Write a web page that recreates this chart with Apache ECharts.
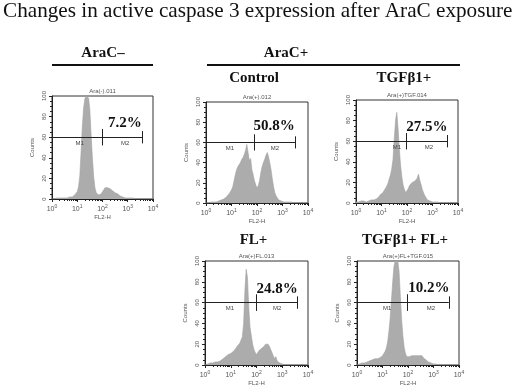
<!DOCTYPE html>
<html>
<head>
<meta charset="utf-8">
<script src="https://cdn.jsdelivr.net/npm/echarts@6/dist/echarts.min.js"></script>
<style>
  html, body { margin: 0; padding: 0; background: #fff; }
  #chart { width: 520px; height: 388px; }
</style>
</head>
<body>
<div id="chart"></div>
<script>
// bin positions along FL2-H, in decades (10^0 .. 10^4)
const logPos = Array.from({length: 81}, (_, i) => +(i * 0.05).toFixed(2));

// counts per bin
const araMinus = [
  0,0,0,0,1,0,1,1,1,1,
  1,2,1,2,2,3,2,3,4,5,
  7,12,22,45,70,88,97,100,100,98,
  86,62,40,22,11,6,5,4,4,5,
  7,9,11,12,11,12,10,9,8,7,
  6,5,5,4,3,3,2,2,1,1,
  1,1,1,0,1,0,0,0,0,0,
  0,0,0,0,0,0,0,0,0,0,0
];
const control = [
  0,1,0,1,1,1,1,2,1,2,
  2,2,3,3,4,5,6,7,9,11,
  13,16,22,28,33,36,35,40,43,45,
  48,52,58,50,42,44,33,28,22,18,
  15,17,22,30,36,40,43,47,50,46,
  40,33,24,16,10,7,5,3,3,2,
  2,1,1,1,1,1,0,1,0,0,
  0,0,0,0,0,0,0,0,0,0,0
];
const tgf = [
  1,2,1,1,2,1,2,2,1,2,
  2,2,3,3,3,4,4,5,6,8,
  9,10,12,14,16,19,23,27,33,42,
  62,80,88,72,52,36,25,17,13,10,
  10,14,17,18,20,19,21,20,24,28,
  22,18,13,10,7,5,3,2,2,1,
  1,1,1,0,1,0,0,0,0,0,
  0,0,0,0,0,0,0,0,0,0,0
];
const fl = [
  0,1,1,1,2,1,2,2,3,3,
  3,4,4,5,6,7,8,9,10,11,
  11,12,13,14,16,18,19,21,22,27,
  40,72,92,84,55,36,28,20,15,12,
  10,12,14,15,16,17,18,20,21,20,
  18,15,12,9,6,8,4,3,2,1,
  1,1,0,1,0,0,0,0,0,0,
  0,0,0,0,0,0,0,0,0,0,0
];
const tgfFl = [
  0,1,1,1,2,2,2,3,3,4,
  4,5,5,6,6,7,6,7,7,8,
  9,10,13,16,22,32,45,62,80,95,
  100,100,100,90,66,44,28,17,11,8,
  7,8,8,9,10,9,10,9,10,9,
  8,9,7,6,5,4,3,2,2,1,
  1,1,1,0,0,0,0,0,0,0,
  0,0,0,0,0,0,0,0,0,0,0
];

const yTicks = [0, 20, 40, 60, 80, 100];
const gateLevel = 60;
const m1End = [1.98, 1.88, 1.96, 2.0, 1.96];   // decades
const m2End = [3.59, 3.49, 3.57, 3.6, 3.6];
const percents = ['7.2%', '50.8%', '27.5%', '24.8%', '10.2%'];
const fileNames = ['Ara(-).011', 'Ara(+).012', 'Ara(+)TGF.014', 'Ara(+)FL.013', 'Ara(+)FL+TGF.015'];
const panelTitles = ['', 'Control', 'TGF\u03b21+', 'FL+', 'TGF\u03b21+ FL+'];

const panels = [
  {counts: araMinus, grid: {left: 52,  top: 96,  width: 101, height: 103}, m1Lab: 1.1,  m2Lab: 2.9,  pct: [2.89, 74]},
  {counts: control,  grid: {left: 206, top: 102, width: 102, height: 101}, m1Lab: 0.94, m2Lab: 2.7,  pct: [2.67, 76]},
  {counts: tgf,      grid: {left: 356, top: 100, width: 102, height: 103}, m1Lab: 1.6,  m2Lab: 2.86, pct: [2.78, 74]},
  {counts: fl,       grid: {left: 205, top: 261, width: 103, height: 104}, m1Lab: 0.97, m2Lab: 2.8,  pct: [2.8, 73]},
  {counts: tgfFl,    grid: {left: 357, top: 261, width: 102, height: 104}, m1Lab: 1.18, m2Lab: 2.9,  pct: [2.82, 74]}
];

const minorVals = [];
for (let d = 0; d < 4; d++) for (let k = 2; k <= 9; k++) minorVals.push(k * Math.pow(10, d));

const pow = v => Math.pow(10, v);
const smallFont = '"Liberation Sans", Arial, sans-serif';
const serif = '"Liberation Serif", "Times New Roman", serif';

const grids = [], xAxes = [], yAxes = [], series = [], graphics = [];

panels.forEach((p, i) => {
  grids.push(Object.assign({show: true, borderColor: '#333', borderWidth: 1, backgroundColor: 'transparent'}, p.grid));
  xAxes.push({
    type: 'log', logBase: 10, min: 1, max: 10000, gridIndex: i,
    name: 'FL2-H', nameLocation: 'middle', nameGap: 15,
    nameTextStyle: {fontSize: 6, color: '#555', fontFamily: smallFont},
    axisLine: {lineStyle: {color: '#222', width: 1}},
    axisTick: {length: 3, lineStyle: {color: '#222'}},
    splitLine: {show: false},
    axisLabel: {
      margin: 5, color: '#555', fontFamily: smallFont, fontSize: 7,
      formatter: v => '10{s|' + Math.round(Math.log10(v)) + '}',
      rich: {s: {fontSize: 5, color: '#555', verticalAlign: 'top', padding: [0, 0, 5, 0]}}
    }
  });
  xAxes.push({
    type: 'log', logBase: 10, min: 1, max: 10000, gridIndex: i, position: 'bottom',
    axisLine: {show: false}, axisLabel: {show: false}, splitLine: {show: false},
    axisTick: {show: true, length: 2, customValues: minorVals, lineStyle: {color: '#222'}}
  });
  yAxes.push({
    type: 'value', min: 0, max: 100, interval: 20, gridIndex: i,
    name: 'Counts', nameLocation: 'middle', nameGap: 17, nameRotate: 90,
    nameTextStyle: {fontSize: 6, color: '#555', fontFamily: smallFont},
    axisLine: {show: true, lineStyle: {color: '#222', width: 1}},
    axisTick: {show: true, length: 3, lineStyle: {color: '#222'}},
    minorTick: {show: true, splitNumber: 4, length: 2, lineStyle: {color: '#222'}},
    splitLine: {show: false},
    axisLabel: {rotate: 90, margin: 5, fontSize: 6, color: '#555', fontFamily: smallFont,
      customValues: yTicks}
  });

  const m1 = pow(m1End[i]), m2 = pow(m2End[i]);
  const tick = 7;
  series.push({
    type: 'line', xAxisIndex: i * 2, yAxisIndex: i,
    data: logPos.map((lp, k) => [pow(lp), p.counts[k]]),
    symbol: 'none', animation: false,
    lineStyle: {color: '#a3a3a3', width: 0.6},
    areaStyle: {color: '#acacac', opacity: 1},
    markLine: {
      silent: true, symbol: ['none', 'none'], animation: false,
      label: {show: false},
      lineStyle: {color: '#222', width: 1, type: 'solid'},
      data: [
        [{coord: [1, gateLevel]}, {coord: [m1, gateLevel]}],
        [{coord: [1, gateLevel - tick]}, {coord: [1, gateLevel + tick]}],
        [{coord: [m1, gateLevel - tick - 1]}, {coord: [m1, gateLevel + tick + 1]}],
        [{coord: [m1, gateLevel]}, {coord: [m2, gateLevel]}],
        [{coord: [m2, gateLevel - tick + 1]}, {coord: [m2, gateLevel + tick - 1]}]
      ]
    },
    markPoint: {
      silent: true, animation: false, symbol: 'circle', symbolSize: 0,
      data: [
        {coord: [pow(p.m1Lab), 54], label: {show: true, position: 'inside', formatter: 'M1', fontSize: 6, color: '#444', fontFamily: smallFont}},
        {coord: [pow(p.m2Lab), 54], label: {show: true, position: 'inside', formatter: 'M2', fontSize: 6, color: '#444', fontFamily: smallFont}},
        {coord: [pow(p.pct[0]), p.pct[1]], label: {show: true, position: 'inside', formatter: percents[i], fontSize: 15, fontWeight: 'bold', color: '#111', fontFamily: serif}}
      ]
    }
  });

  const g = p.grid;
  graphics.push({type: 'text', silent: true, style: {
    text: fileNames[i], x: g.left + g.width / 2, y: g.top - 5,
    font: '6px ' + smallFont, fill: '#555', align: 'center', verticalAlign: 'middle'}});
  if (panelTitles[i]) {
    graphics.push({type: 'text', silent: true, style: {
      text: panelTitles[i], x: g.left + g.width / 2 - 3, y: i < 3 ? 78 : 240,
      font: 'bold 15px ' + serif, fill: '#111', align: 'center', verticalAlign: 'middle'}});
  }
});

graphics.push(
  {type: 'text', silent: true, style: {text: 'Changes in active caspase 3 expression after AraC exposure',
    x: 3, y: 11, font: '21.2px ' + serif, fill: '#111', align: 'left', verticalAlign: 'middle'}},
  {type: 'text', silent: true, style: {text: 'AraC\u2013', x: 103, y: 53,
    font: 'bold 15px ' + serif, fill: '#111', align: 'center', verticalAlign: 'middle'}},
  {type: 'text', silent: true, style: {text: 'AraC+', x: 286, y: 53,
    font: 'bold 15px ' + serif, fill: '#111', align: 'center', verticalAlign: 'middle'}},
  {type: 'line', silent: true, shape: {x1: 52, y1: 65, x2: 153, y2: 65}, style: {stroke: '#111', lineWidth: 2}},
  {type: 'line', silent: true, shape: {x1: 207, y1: 65, x2: 460, y2: 65}, style: {stroke: '#111', lineWidth: 2}}
);

const chart = echarts.init(document.getElementById('chart'), null, {renderer: 'canvas'});
chart.setOption({
  backgroundColor: '#fff',
  animation: false,
  grid: grids,
  xAxis: xAxes,
  yAxis: yAxes,
  series: series,
  graphic: graphics
});
</script>
</body>
</html>
